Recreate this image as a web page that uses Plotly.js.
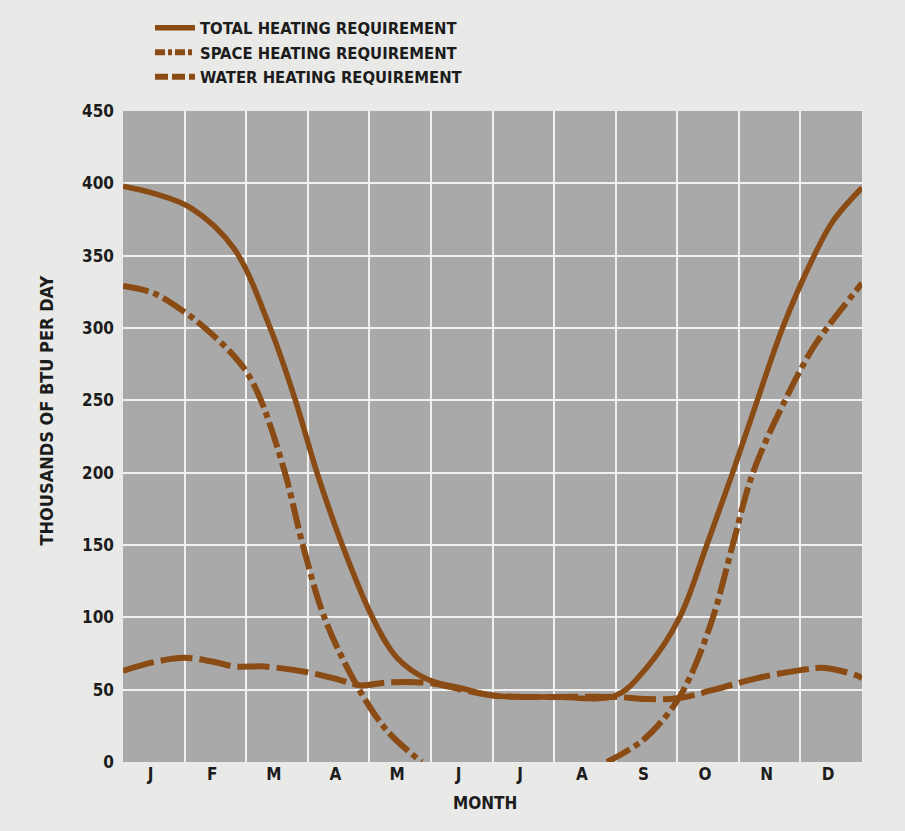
<!DOCTYPE html>
<html>
<head>
<meta charset="utf-8">
<script src="https://cdn.plot.ly/plotly-3.0.1.min.js"></script>
<style>
html,body{margin:0;padding:0;background:#e9e9e7;}
#chart{width:905px;height:831px;}
</style>
</head>
<body>
<div id="chart"></div>
<script>
// Month tick labels (placed at month centres)
const monthLabels = ['J','F','M','A','M','J','J','A','S','O','N','D'];
const monthCentres = [0.45,1.45,2.45,3.45,4.45,5.45,6.45,7.45,8.45,9.45,10.45,11.45];
const monthEdges = [0,1,2,3,4,5,6,7,8,9,10,11,12];

// Series names
const seriesNames = ['TOTAL HEATING REQUIREMENT', 'SPACE HEATING REQUIREMENT', 'WATER HEATING REQUIREMENT'];

// Total heating requirement (thousands of BTU per day)
const totalX = [0, 0.5, 1.1, 1.8, 2.39, 2.8, 3.15, 3.56, 4.05, 4.45, 4.95, 5.5, 6.0, 7.0, 8.0, 8.5, 9.04, 9.48, 9.9, 10.3, 10.71, 11.2, 11.53, 12];
const totalY = [398, 393, 383, 355, 300, 250, 200, 150, 100, 72, 57, 51, 46, 45, 46, 65, 100, 150, 200, 250, 300, 348, 374, 397];

// Space heating requirement
const spaceX = [0, 0.5, 1.0, 1.33, 1.73, 2.0, 2.24, 2.63, 2.92, 3.27, 3.77, 4.28, 4.85, null, 7.86, 8.44, 8.93, 9.2, 9.58, 9.9, 10.23, 10.75, 11.2, 11.43, 12];
const spaceY = [329, 324, 311, 300, 284, 270, 250, 200, 150, 100, 55, 22, 0, null, 0, 15, 38, 58, 100, 150, 200, 250, 286, 300, 331];

// Water heating requirement
const waterX = [0, 0.5, 1.0, 1.5, 1.8, 2.3, 3.0, 3.5, 3.85, 4.3, 5.0, 5.5, 6.0, 6.5, 7.0, 8.0, 8.5, 9.0, 9.6, 10.3, 11.0, 11.4, 11.9, 12];
const waterY = [63, 69, 72, 69, 66, 66, 62, 57, 53, 55, 54.5, 50, 46, 45, 45, 45, 43.5, 44, 50, 58, 63.5, 65, 60, 58];

const brown = '#8a4b14';
const ink = '#1c1c1c';
const fontFam = '"DejaVu Sans Condensed", "Liberation Sans Narrow", Arial, sans-serif';
const f = (size) => ({family: fontFam, size: size, color: ink, weight: 'bold'});

const styles = [
  {plot: {color: brown, width: 5.5}, key: {color: brown, width: 5.5}},
  {plot: {color: brown, width: 6, dash: '26px,5px,6px,5px'}, key: {color: brown, width: 6, dash: '10px,3px,4px,3px'}},
  {plot: {color: brown, width: 6, dash: '32px,7px'}, key: {color: brown, width: 6, dash: '13px,4px'}}
];
const series = [[totalX, totalY], [spaceX, spaceY], [waterX, waterY]];

const traces = [];
series.forEach((s, i) => {
  traces.push({x: s[0], y: s[1], name: seriesNames[i], mode: 'lines', showlegend: false, connectgaps: false,
    line: Object.assign({shape: 'spline', smoothing: 1}, styles[i].plot)});
});
// legend keys (no plotted points)
series.forEach((s, i) => {
  traces.push({x: [null], y: [null], name: seriesNames[i], mode: 'lines', showlegend: true,
    line: styles[i].key});
});

const layout = {
  width: 905, height: 831,
  margin: {l: 123, r: 43, t: 110, b: 69},
  paper_bgcolor: '#e9e9e7',
  plot_bgcolor: '#a9a9a9',
  font: f(16),
  showlegend: true,
  legend: {x: 0.0365, xanchor: 'left', y: 1.1526, yanchor: 'top', xref: 'paper', yref: 'paper',
           bgcolor: 'rgba(0,0,0,0)', font: f(16.5),
           tracegroupgap: 0, itemwidth: 40, traceorder: 'normal'},
  xaxis: {
    range: [0, 12], fixedrange: true,
    tickmode: 'array', tickvals: monthCentres, ticktext: monthLabels,
    showgrid: false, zeroline: false, showline: false, ticks: '',
    tickfont: f(17),
    minor: {tickmode: 'array', tickvals: monthEdges, showgrid: true, gridcolor: '#f0f0f0', gridwidth: 2, ticks: ''}
  },
  yaxis: {
    range: [0, 450], fixedrange: true,
    tickmode: 'linear', tick0: 0, dtick: 50,
    showgrid: true, gridcolor: '#f0f0f0', gridwidth: 2,
    zeroline: false, showline: false, ticks: '',
    ticklabelstandoff: 8,
    tickfont: f(17)
  },
  annotations: [
    {text: 'MONTH', xref: 'paper', yref: 'paper', x: (485 - 123) / 739, y: -(803 - 762) / 652,
     xanchor: 'center', yanchor: 'middle', showarrow: false, font: f(17)},
    {text: 'THOUSANDS OF BTU PER DAY', xref: 'paper', yref: 'paper', x: (47 - 123) / 739, y: (762 - 410) / 652,
     xanchor: 'center', yanchor: 'middle', textangle: -90, showarrow: false, font: f(18)}
  ]
};

Plotly.newPlot('chart', traces, layout, {displayModeBar: false, staticPlot: true});
</script>
</body>
</html>
